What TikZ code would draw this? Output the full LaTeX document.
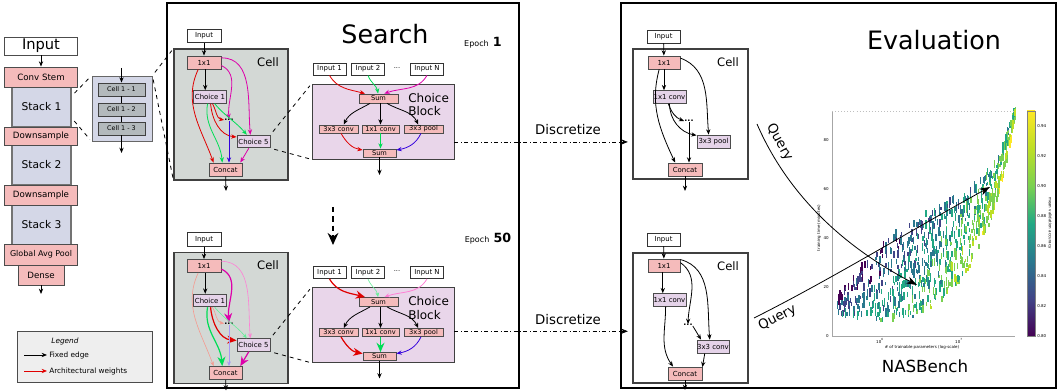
\documentclass[tikz,border=0pt]{standalone}
\usepackage{fontspec}
\setmainfont{DejaVu Sans}
\usetikzlibrary{arrows.meta}
\newcommand{\fsz}[1]{\fontsize{#1}{#1}\selectfont}
\definecolor{opred}{HTML}{F5BBBB}
\definecolor{stackblue}{HTML}{D4D7E7}
\definecolor{cellgray}{HTML}{D3D8D5}
\definecolor{choicebg}{HTML}{E9D6EA}
\definecolor{choicebox}{HTML}{E5D3E9}
\definecolor{cellbox}{HTML}{B3B9BC}
\definecolor{legendbg}{HTML}{EEEEEE}
\definecolor{wred}{HTML}{E00000}
\definecolor{wgreen}{HTML}{00DD55}
\definecolor{wblue}{HTML}{3300DD}
\definecolor{wmag}{HTML}{DD00AA}
\definecolor{wpink}{HTML}{FF80D5}
\definecolor{wsalmon}{HTML}{F59A90}
\definecolor{wlav}{HTML}{A898F5}
\definecolor{wlgreen}{HTML}{66EE99}
\definecolor{vir0}{HTML}{440154}
\definecolor{vir1}{HTML}{414487}
\definecolor{vir2}{HTML}{2A788E}
\definecolor{vir3}{HTML}{22A884}
\definecolor{vir4}{HTML}{7AD151}
\definecolor{vir5}{HTML}{BDDF26}
\definecolor{vir6}{HTML}{FDE725}

\begin{document}
\begin{tikzpicture}[x=0.75pt,y=-0.75pt,
		>={Stealth[length=4pt,width=3.2pt]},
		every node/.style={inner sep=0pt},
		bigbox/.style={draw=black!70,line width=0.6pt,minimum width=54.75pt,minimum height=13.5pt,font=\fsz{6.5}},
		stackbox/.style={draw=black!55,line width=1pt,fill=stackblue,minimum width=44.25pt,minimum height=30pt,font=\fsz{8}},
		cellrow/.style={draw=black!75,line width=0.6pt,fill=cellbox,minimum width=35.25pt,minimum height=9.75pt,font=\fsz{4.8}},
		inbox/.style={draw=black!80,line width=0.6pt,fill=white,minimum width=25.5pt,minimum height=10pt,font=\fsz{5.2}},
		blockin/.style={inbox,minimum width=24.75pt,minimum height=9pt},
		opbox/.style={draw=black!70,line width=0.6pt,fill=opred,minimum width=25.5pt,minimum height=9.75pt,font=\fsz{5.2}},
		chbox/.style={draw=black!70,line width=0.6pt,fill=choicebox,minimum width=24.75pt,minimum height=9.5pt,font=\fsz{5.2}},
		smallop/.style={opbox,minimum width=29.25pt,minimum height=6pt,font=\fsz{5}},
		dotsnode/.style={font=\fsz{6}\bfseries},
		cellframe/.style={draw=black!75,line width=0.8pt,minimum width=85.5pt,minimum height=98.25pt},
		celllabel/.style={font=\fsz{8.7}},
		blocklabel/.style={anchor=west,align=left,font=\fontsize{9}{9.8}\selectfont},
		blockframe/.style={draw=black!75,line width=0.6pt,fill=choicebg,minimum width=106.5pt,minimum height=56.25pt},
		titletext/.style={font=\fsz{19}},
		fixedarrow/.style={->,line width=0.6pt},
		wmid/.style={->,line width=0.6pt},
		wheavy/.style={-{Stealth[length=7pt,width=6pt]},line width=0.9pt},
		wlight/.style={-{Stealth[length=3.5pt,width=2.8pt]},line width=0.45pt},
		zoomline/.style={dashed,line width=0.6pt,shorten <=3pt,shorten >=2pt},
		discarrow/.style={dash dot,line width=0.5pt,-{Stealth[length=5pt,width=4pt]},shorten >=3.5pt},
		query/.style={line width=0.6pt,-{Stealth[length=8pt,width=5.5pt]}},
		plotfont/.style={font=\fsz{3}}
		]
	\useasboundingbox (0,0) rectangle (1058,391);
	
	% network
	\node[stackbox] (stack1) at (41.5,107) {Stack 1};
	\node[stackbox] (stack2) at (41.5,165) {Stack 2};
	\node[stackbox] (stack3) at (41.5,225) {Stack 3};
	\node[bigbox,fill=white,font=\fsz{11}] (input) at (41,46) {Input};
	\node[bigbox,fill=opred,minimum height=15pt] (stem) at (41,77) {Conv Stem};
	\node[bigbox,fill=opred] (down1) at (41,136) {Downsample};
	\node[bigbox,fill=opred,minimum height=15pt] (down2) at (41,195) {Downsample};
	\node[bigbox,fill=opred,minimum height=15.75pt,font=\fsz{6}] (gap) at (41,254.5) {Global Avg Pool};
	\node[bigbox,fill=opred,minimum width=34.5pt,minimum height=15pt] (dense) at (41,275) {Dense};
	\coordinate (netout) at (41,294);
	\draw[fixedarrow] (input) -- (stem);
	\draw[fixedarrow] (dense) -- (netout);
	
	\node[draw=black!60,line width=0.6pt,fill=stackblue,minimum width=45pt,minimum height=48.75pt] (cbox) at (122,108.5) {};
	\node[cellrow] (c11) at (121.5,89.5) {Cell 1 - 1};
	\node[cellrow] (c12) at (121.5,109.5) {Cell 1 - 2};
	\node[cellrow] (c13) at (121.5,128.5) {Cell 1 - 3};
	\coordinate (cin) at (121.5,68);
	\coordinate (cout) at (121.5,153);
	\draw[fixedarrow] (cin) -- (c11);
	\draw[line width=0.6pt] (c11) -- (c12) (c12) -- (c13);
	\draw[fixedarrow] (c13) -- (cout);
	
	% frames
	\draw[line width=0.8pt] (167,3) rectangle (519,388);
	\draw[line width=0.8pt] (621,3) rectangle (1056,388);
	\node[titletext] (search) at (385,34) {Search};
	\node[titletext] (evaluation) at (934,40) {Evaluation};
	\node (ep1) at (483,43) {{\fsz{6}Epoch} {\fsz{9.5}\bfseries 1}};
	\node (ep50) at (488,239) {{\fsz{6}Epoch} {\fsz{9.5}\bfseries 50}};
	
	% search, epoch 1
	\node[cellframe,fill=cellgray] (scell) at (231,114.5) {};
	\node[celllabel] (slab) at (268,62) {Cell};
	\node[inbox] (sin) at (204,36) {Input};
	\node[opbox] (s1x1) at (204,62.5) {1x1};
	\node[chbox] (sch1) at (210,97) {Choice 1};
	\node[dotsnode] (sdots) at (229,120) {...};
	\node[chbox] (sch5) at (253.5,141.5) {Choice 5};
	\node[opbox,minimum width=24.75pt] (scat) at (225.5,169.5) {Concat};
	\coordinate (sout) at (226,191);
	\draw[fixedarrow] (sin) -- (s1x1);
	\draw[fixedarrow] (s1x1.-80) -- (s1x1.-80 |- sch1.north);
	\draw[wmid,wred] (s1x1.-130) to[out=-115,in=110] (scat.150);
	\draw[wmid,wmag] (s1x1.-10) to[out=-25,in=95] (sdots.north);
	\draw[wmid,wmag] (s1x1.15) to[out=0,in=95] (sch5.115);
	\draw[wmid,wred] (sch1.-70) to[out=-60,in=170] (sdots.west);
	\draw[wmid,wred] (sch1.-85) to[out=-85,in=175] (sch5.165);
	\draw[wmid,wgreen] (sch1.-110) to[out=-100,in=95] (scat.115);
	\draw[wmid,wgreen] (sch1.-55) to[out=-50,in=130] (sch5.135);
	\draw[wmid,wblue] (sdots.south) -- (sdots.south |- scat.north);
	\draw[wmid,wmag] (sch5.-125) -- (scat.25);
	\draw[fixedarrow] (scat) -- (sout);
	
	\node[blockframe] (bblock) at (383,121.5) {};
	\node[blocklabel] (blab) at (408,104.5) {Choice\\Block};
	\node[blockin] (bin1) at (329.5,69) {Input 1};
	\node[blockin] (bin2) at (368,69) {Input 2};
	\node[font=\fsz{5}] (bdots) at (397,68) {...};
	\node[blockin] (binN) at (427,69) {Input N};
	\node[smallop,minimum height=6.75pt] (bsum) at (378.5,98.5) {Sum};
	\node[smallop] (bop1) at (338.5,129) {3x3 conv};
	\node[smallop,minimum width=27.75pt] (bop2) at (380.5,129) {1x1 conv};
	\node[smallop] (bop3) at (423.5,129) {3x3 pool};
	\node[smallop,minimum width=24.75pt] (bsum2) at (379.5,153) {Sum};
	\coordinate (bout) at (379.5,175);
	\draw[wmid,wred] (bin1.south) to[out=-60,in=165] (bsum.160);
	\draw[wmid,wgreen] (bin2.south) to[out=-70,in=100] (bsum.95);
	\draw[wmid,wmag] (binN.south) to[out=-120,in=20] (bsum.40);
	\draw[fixedarrow] (bsum.-150) to[out=-150,in=65] (bop1.40);
	\draw[fixedarrow] (bsum.south -| bop2.north) -- (bop2.north);
	\draw[fixedarrow] (bsum.-30) to[out=-30,in=115] (bop3.140);
	\draw[wmid,wred] (bop1.-60) to[out=-60,in=170] (bsum2.170);
	\draw[wmid,wgreen] (bop2.south) -- (bop2.south |- bsum2.north);
	\draw[wmid,wblue] (bop3.-120) to[out=-115,in=10] (bsum2.10);
	\draw[fixedarrow] (bsum2) -- (bout);
	
	\draw[zoomline] (stack1.20) -- (cbox.north west);
	\draw[zoomline] (stack1.-20) -- (cbox.south west);
	\draw[zoomline] (cbox.north east) -- (scell.north west);
	\draw[zoomline] (cbox.north east) -- (scell.south west);
	\draw[zoomline] (sch5.north east) -- (bblock.north west);
	\draw[zoomline] (sch5.south east) -- (bblock.south west);
	
	\coordinate (epa) at (333,207);
	\coordinate (epb) at (333,245);
	\draw[line width=1.6pt,dash pattern=on 4pt off 3pt,-{Stealth[length=9pt,width=8pt]}] (epa) -- (epb);
	
	% search, epoch 50
	\begin{scope}[shift={(0,203.5)}]
		\node[cellframe,fill=cellgray] (tcell) at (231,114.5) {};
		\node[celllabel] (tlab) at (268,62) {Cell};
		\node[inbox] (tin) at (204,36) {Input};
		\node[opbox] (t1x1) at (204,62.5) {1x1};
		\node[chbox] (tch1) at (210,97) {Choice 1};
		\node[dotsnode] (tdots) at (229,120) {...};
		\node[chbox] (tch5) at (253.5,141.5) {Choice 5};
		\node[opbox,minimum width=24.75pt] (tcat) at (225.5,169.5) {Concat};
		\coordinate (tout) at (226,187);
		\draw[fixedarrow] (tin) -- (t1x1);
		\draw[fixedarrow] (t1x1.-80) -- (t1x1.-80 |- tch1.north);
		\draw[wlight,wsalmon] (t1x1.-130) to[out=-115,in=110] (tcat.150);
		\draw[wheavy,wmag] (t1x1.-10) to[out=-25,in=95] (tdots.north);
		\draw[wlight,wpink] (t1x1.15) to[out=0,in=95] (tch5.115);
		\draw[wlight,wsalmon] (tch1.-70) to[out=-60,in=170] (tdots.west);
		\draw[wheavy,wred] (tch1.-85) to[out=-85,in=175] (tch5.165);
		\draw[wheavy,wgreen] (tch1.-110) to[out=-100,in=95] (tcat.115);
		\draw[wlight,wlgreen] (tch1.-55) to[out=-50,in=130] (tch5.135);
		\draw[wlight,wlav] (tdots.south) -- (tdots.south |- tcat.north);
		\draw[wheavy,wmag] (tch5.-125) -- (tcat.25);
		\draw[fixedarrow] (tcat) -- (tout);
		
		\node[blockframe] (kblock) at (383,121.5) {};
		\node[blocklabel] (klab) at (408,104.5) {Choice\\Block};
		\node[blockin] (kin1) at (329.5,69) {Input 1};
		\node[blockin] (kin2) at (368,69) {Input 2};
		\node[font=\fsz{5}] (kdots) at (397,68) {...};
		\node[blockin] (kinN) at (427,69) {Input N};
		\node[smallop,minimum height=6.75pt] (ksum) at (378.5,98.5) {Sum};
		\node[smallop] (kop1) at (338.5,129) {3x3 conv};
		\node[smallop,minimum width=27.75pt] (kop2) at (380.5,129) {1x1 conv};
		\node[smallop] (kop3) at (423.5,129) {3x3 pool};
		\node[smallop,minimum width=24.75pt] (ksum2) at (379.5,153) {Sum};
		\coordinate (kout) at (379.5,175);
		\draw[wheavy,wred] (kin1.south) to[out=-60,in=165] (ksum.160);
		\draw[wlight,wlgreen] (kin2.south) to[out=-70,in=100] (ksum.95);
		\draw[wmid,wpink] (kinN.south) to[out=-120,in=20] (ksum.40);
		\draw[fixedarrow] (ksum.-150) to[out=-150,in=65] (kop1.40);
		\draw[fixedarrow] (ksum.south -| kop2.north) -- (kop2.north);
		\draw[fixedarrow] (ksum.-30) to[out=-30,in=115] (kop3.140);
		\draw[wheavy,wred] (kop1.-60) to[out=-60,in=170] (ksum2.170);
		\draw[wheavy,wgreen] (kop2.south) -- (kop2.south |- ksum2.north);
		\draw[wmid,wblue] (kop3.-120) to[out=-115,in=10] (ksum2.10);
		\draw[fixedarrow] (ksum2) -- (kout);
		
		\draw[zoomline] (tch5.north east) -- (kblock.north west);
		\draw[zoomline] (tch5.south east) -- (kblock.south west);
	\end{scope}
	
	% evaluation cells
	\node[cellframe,fill=white,minimum width=86.25pt,minimum height=97.5pt] (ecell1) at (690.5,114) {};
	\node[celllabel] (elab1) at (728,62) {Cell};
	\node[inbox,minimum width=24.75pt,minimum height=9.75pt] (ein1) at (663.5,36.5) {Input};
	\node[opbox,minimum width=24pt] (e1x1) at (664,62.5) {1x1};
	\node[chbox] (econv1) at (669.5,97) {1x1 conv};
	\node[dotsnode] (edots) at (689,121) {...};
	\node[chbox,minimum height=9.75pt] (epool) at (713.5,141.5) {3x3 pool};
	\node[opbox] (ecat) at (685,169.5) {Concat};
	\coordinate (eout) at (685,191);
	\draw[fixedarrow] (ein1) -- (e1x1);
	\draw[fixedarrow] (e1x1.south) -- (e1x1.south |- econv1.north);
	\draw[fixedarrow] (e1x1.-125) to[out=-105,in=115] (ecat.145);
	\draw[fixedarrow] (e1x1.15) to[out=-20,in=95] (epool.125);
	\draw[fixedarrow] (econv1.-100) to[out=-70,in=160] (edots.west);
	\draw[fixedarrow] (econv1.-90) to[out=-90,in=170] (epool.160);
	\draw[fixedarrow] (edots.south) -- (edots.south |- ecat.north);
	\draw[fixedarrow] (ecat) -- (eout);
	
	\node[cellframe,fill=white,minimum width=86.25pt,minimum height=97.5pt] (ecell2) at (690.5,318) {};
	\node[celllabel] (elab2) at (728,266) {Cell};
	\node[inbox,minimum width=24.75pt,minimum height=9.75pt] (ein2) at (663.5,239.5) {Input};
	\node[opbox,minimum width=24pt] (e2x1) at (664,265.5) {1x1};
	\node[chbox] (econv2) at (669.5,300) {1x1 conv};
	\node[dotsnode] (edots2) at (688,325) {...};
	\node[chbox,minimum width=24pt,minimum height=9.75pt] (econv3) at (713,346.5) {3x3 conv};
	\node[opbox] (ecat2) at (685,373.5) {Concat};
	\coordinate (eout2) at (685,390);
	\draw[fixedarrow] (ein2) -- (e2x1);
	\draw[fixedarrow] (e2x1.-100) -- (e2x1.-100 |- econv2.north);
	\draw[fixedarrow] (econv2.-120) to[out=-90,in=125] (ecat2.150);
	\draw[fixedarrow] (e2x1.10) to[out=-35,in=88] (edots2.north);
	\draw[fixedarrow] (e2x1.20) to[out=-15,in=95] (econv3.115);
	\draw[fixedarrow] (edots2.south east) -- (econv3.150);
	\draw[fixedarrow] (econv3.-140) -- (ecat2.20);
	\draw[fixedarrow] (ecat2) -- (eout2);
	
	\node[font=\fsz{10}] (disc1) at (568,130) {Discretize};
	\node[font=\fsz{10}] (disc2) at (568,320) {Discretize};
	\draw[discarrow] (bblock.-16) -- (bblock.-16 -| ecell1.west);
	\draw[discarrow] (kblock.-5) -- (kblock.-5 -| ecell2.west);
	
	% nasbench plot
	\pgfmathsetseed{7}
	\foreach \i in {1,...,800}{
		\pgfmathsetmacro{\pu}{pow(rnd,0.75)}
		\pgfmathsetmacro{\po}{2*rnd-1}
		\pgfmathsetmacro{\px}{835+180*\pu}
		\pgfmathsetmacro{\py}{308-85*\pu-110*pow(\pu,7)+\po*(6+170*\pu*(1-\pu))}
		\pgfmathtruncatemacro{\ci}{max(0,min(6,1.4+3.4*\pu+1.1*\po+2.2*(rnd-0.5)))}
		\pgfmathsetmacro{\plen}{3+6*rnd}
		\fill[vir\ci] (\px,\py) rectangle ++(1.4,-\plen);
	}
	\draw[gray!70,line width=0.3pt] (832,111) -- (832,336) -- (1015,336);
	\draw[gray!50,line width=0.3pt,dotted] (832,111) -- (1015,111);
	\foreach \v/\yy in {0/336,20/287,40/238,60/189,80/140}{
		\node[plotfont,anchor=east] (yt\v) at (829,\yy) {\v};
	}
	\node[plotfont] (xt6) at (880,341) {10\textsuperscript{6}};
	\node[plotfont] (xt7) at (959,341) {10\textsuperscript{7}};
	\node[plotfont] (xlab) at (922,347) {\# of trainable parameters (log-scale)};
	\node[plotfont,rotate=90] (ylab) at (819,228) {training time (minutes)};
	\foreach \ca/\cb [count=\k from 0] in {vir0/vir1,vir1/vir2,vir2/vir3,vir3/vir4,vir4/vir5,vir5/vir6}{
		\shade[bottom color=\ca,top color=\cb] (1027,{336-37.5*\k}) rectangle (1035,{298.5-37.5*\k});
	}
	\draw[gray,line width=0.3pt] (1027,111) rectangle (1035,336);
	\foreach \v/\yy in {0.80/336,0.82/306,0.84/276,0.86/246,0.88/216,0.90/186,0.92/156,0.94/126}{
		\node[plotfont,anchor=west] (cb\yy) at (1037,\yy) {\v};
	}
	\node[plotfont,rotate=-90] (cblab) at (1050,223) {mean validation accuracy};
	\node[font=\fsz{12.5}] (nasbench) at (925,366) {NASBench};
	
	\coordinate (qa) at (757,124);
	\coordinate (qb) at (917,285);
	\coordinate (qc) at (754,318);
	\coordinate (qd) at (990,187);
	\draw[query] (qa) .. controls (790,200) and (850,250) .. (qb) node[pos=0.11,sloped,above=4pt,font=\fsz{10}] (qlab1) {Query};
	\draw[query] (qc) .. controls (830,280) and (920,225) .. (qd) node[pos=0.08,sloped,below=3pt,font=\fsz{10}] (qlab2) {Query};
	
	% legend
	\node[draw=black!70,line width=0.6pt,fill=legendbg,minimum width=101.25pt,minimum height=38.25pt] (legend) at (84.5,356.5) {};
	\node[font=\fsz{5.5}\itshape] (legtitle) at (65,341) {Legend};
	\node[font=\fsz{5.5},anchor=west] (legfixed) at (49,355) {Fixed edge};
	\node[font=\fsz{5.5},anchor=west] (legarch) at (49,371) {Architectural weights};
	\coordinate (lfa) at (24,355);
	\coordinate (lfb) at (24,371);
	\draw[fixedarrow,shorten >=1.5pt] (lfa) -- (legfixed.west);
	\draw[fixedarrow,wred,shorten >=1.5pt] (lfb) -- (legarch.west);
\end{tikzpicture}
\end{document}
